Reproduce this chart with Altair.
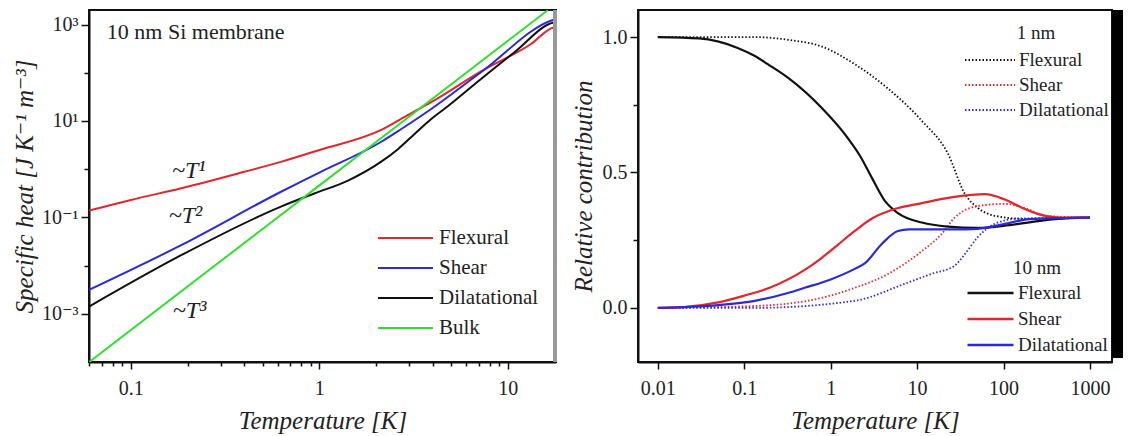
import altair as alt
import pandas as pd

FONT = "'Liberation Serif', 'Times New Roman', Tinos, 'DejaVu Serif', serif"
RED = "#e3262b"
BLUE = "#2a2ad8"
BLACK = "#111111"
GREEN = "#2ee02e"

# ---------------- left panel: specific heat (log-log) ----------------
flex_T = [0.06, 0.1, 0.185, 0.4, 0.63, 1.0, 2.13, 2.88, 3.92, 7.2, 13.2, 17.5, 18.0]
flex_C = [0.138, 0.23, 0.40, 0.88, 1.43, 2.5, 6.5, 12.6, 24.5, 107, 389, 870, 880]

shear_T = [0.06, 0.185, 0.63, 0.8, 1.0, 2.13, 2.72, 3.92, 7.2, 17.5, 18.0]
shear_C = [0.00313, 0.0265, 0.344, 0.55, 0.85, 3.7, 6.8, 17.7, 102, 1260, 1300]

dil_T = [0.06, 0.185, 0.63, 0.94, 1.42, 2.13, 2.62, 3.18, 3.92, 4.82, 7.2, 10.8, 17.5, 18.0]
dil_C = [0.00141, 0.0164, 0.169, 0.313, 0.58, 1.43, 2.63, 5.25, 11.0, 20.4, 74, 263, 1100, 1120]

bulk_T = [0.06, 0.1, 0.3, 1.0, 3.0, 10.0, 16.3]
bulk_C = [0.000099, 0.00046, 0.0124, 0.46, 12.4, 460, 1990]

left_series = ["Flexural", "Shear", "Dilatational", "Bulk"]
left_colors = [RED, BLUE, BLACK, GREEN]

label_text = ["10 nm Si membrane"]
label_T = [0.0746]
label_C = [684]

pow_text = ["~T¹", "~T²", "~T³"]
pow_T = [0.203, 0.195, 0.205]
pow_C = [0.933, 0.105, 0.00115]

# ---------------- right panel: relative contribution ----------------
f10_T = [0.01, 0.03, 0.084, 0.133, 0.187, 0.32, 0.79, 1.58, 2.2, 3.0, 4.24, 6.0, 11.4, 22.7, 50, 100, 190, 400, 1000]
f10_V = [1.0, 0.995, 0.96, 0.93, 0.90, 0.85, 0.738, 0.627, 0.56, 0.48, 0.395, 0.35, 0.315, 0.300, 0.295, 0.303, 0.315, 0.328, 0.333]

s10_T = [0.01, 0.02, 0.05, 0.1, 0.2, 0.5, 0.79, 1.2, 1.9, 3.0, 5.5, 11.4, 27, 61, 104, 163, 250, 474, 1000]
s10_V = [0.0, 0.003, 0.02, 0.045, 0.075, 0.14, 0.185, 0.232, 0.284, 0.33, 0.365, 0.387, 0.41, 0.42, 0.40, 0.37, 0.347, 0.333, 0.333]

d10_T = [0.01, 0.05, 0.133, 0.32, 0.5, 1.0, 1.9, 2.5, 3.9, 6.0, 8.0, 27, 50, 104, 200, 1000]
d10_V = [0.0, 0.01, 0.026, 0.055, 0.074, 0.105, 0.144, 0.165, 0.236, 0.284, 0.29, 0.29, 0.292, 0.31, 0.328, 0.333]

f1_T = [0.01, 0.133, 0.32, 0.79, 1.9, 4.6, 11.4, 22.7, 35.7, 50.6, 79, 190, 474, 1000]
f1_V = [1.0, 1.0, 0.99, 0.965, 0.90, 0.81, 0.69, 0.57, 0.421, 0.369, 0.34, 0.328, 0.332, 0.333]

s1_T = [0.01, 0.133, 0.79, 1.9, 4.6, 11.4, 19.3, 27, 50.6, 104, 190, 300, 1000]
s1_V = [0.0, 0.007, 0.037, 0.074, 0.125, 0.21, 0.273, 0.332, 0.376, 0.384, 0.365, 0.34, 0.333]

d1_T = [0.01, 0.133, 1.9, 7.2, 14.5, 27, 36, 50, 79, 150, 1000]
d1_V = [0.0, 0.0, 0.026, 0.089, 0.125, 0.155, 0.2, 0.26, 0.31, 0.33, 0.333]

right_series = ["Flexural", "Shear", "Dilatational"]
right_colors = [BLACK, RED, BLUE]


def frame(ts, vs, name, col="C"):
    return pd.DataFrame({"T": ts, col: vs, "series": name})


left_df = pd.concat([
    frame(flex_T, flex_C, "Flexural"),
    frame(shear_T, shear_C, "Shear"),
    frame(dil_T, dil_C, "Dilatational"),
    frame(bulk_T, bulk_C, "Bulk"),
])
label_df = pd.DataFrame({"T": label_T, "C": label_C, "text": label_text})
pow_df = pd.DataFrame({"T": pow_T, "C": pow_C, "text": pow_text})

nm10_df = pd.concat([
    frame(f10_T, f10_V, "Flexural", "V"),
    frame(s10_T, s10_V, "Shear", "V"),
    frame(d10_T, d10_V, "Dilatational", "V"),
])
nm1_df = pd.concat([
    frame(f1_T, f1_V, "Flexural", "V"),
    frame(s1_T, s1_V, "Shear", "V"),
    frame(d1_T, d1_V, "Dilatational", "V"),
])

LW, LH = 467, 352
RW, RH = 474, 352

xs_left = alt.Scale(type="log", domain=[0.06, 18], nice=False)
ys_left = alt.Scale(type="log", domain=[0.0001, 2000], nice=False)

minor_x_vals = [0.06, 0.07, 0.08, 0.09, 0.2, 0.3, 0.4, 0.5, 0.6, 0.7, 0.8, 0.9,
                2, 3, 4, 5, 6, 7, 8, 9]

lines_left = alt.Chart(left_df).mark_line(strokeWidth=2, clip=True, interpolate="monotone").encode(
    x=alt.X("T:Q", scale=xs_left,
            axis=alt.Axis(values=[0.1, 1, 10], format="~g", tickSize=7, orient="bottom",
                          title="Temperature [K]", titlePadding=10, labelPadding=9)),
    y=alt.Y("C:Q", scale=ys_left,
            axis=alt.Axis(values=[0.001, 0.1, 10, 1000], tickSize=8, orient="left",
                          labelExpr="datum.value > 500 ? '10³' : datum.value > 5 ? '10¹' : datum.value > 0.05 ? '10⁻¹' : '10⁻³'",
                          title="Specific heat [J K⁻¹ m⁻³]", titlePadding=4, labelPadding=3)),
    color=alt.Color("series:N", scale=alt.Scale(domain=left_series, range=left_colors),
                    legend=alt.Legend(orient="none", legendX=288, legendY=217, title=None,
                                      symbolType="stroke", symbolSize=3025, symbolStrokeWidth=2,
                                      clipHeight=22, rowPadding=8, labelOffset=5, padding=0,
                                      labelFont=FONT, labelFontSize=21, labelColor="#222",
                                      labelLimit=300)),
)

label_left = alt.Chart(label_df).mark_text(font=FONT, fontSize=22, align="left", baseline="middle",
                                           color="#222").encode(
    x=alt.X("T:Q", scale=xs_left, axis=None),
    y=alt.Y("C:Q", scale=ys_left, axis=None),
    text="text:N",
)

pow_left = alt.Chart(pow_df).mark_text(font=FONT, fontSize=24, fontStyle="italic", align="center",
                                       baseline="middle", color="#222").encode(
    x=alt.X("T:Q", scale=xs_left,
            axis=alt.Axis(values=minor_x_vals, labels=False, tickSize=4, orient="bottom",
                          title="", domain=False)),
    y=alt.Y("C:Q", scale=ys_left,
            axis=alt.Axis(values=[0.01, 1, 100], labels=False, tickSize=5, orient="left",
                          title="", domain=False)),
    text="text:N",
)

gray_bar = alt.Chart(pd.DataFrame({"k": [0]})).mark_rect(color="#9a9a9a").encode(
    x=alt.value(LW - 3), x2=alt.value(LW + 1), y=alt.value(0), y2=alt.value(LH)
)

left = alt.layer(lines_left, label_left, pow_left, gray_bar).resolve_axis(
    x="independent", y="independent"
).properties(width=LW, height=LH)

# right panel
xs_right = alt.Scale(type="log", domain=[0.0059, 1800], nice=False)
ys_right = alt.Scale(domain=[-0.2, 1.1], nice=False, zero=False)

dotted = alt.Chart(nm1_df).mark_line(strokeWidth=1.8, strokeDash=[1.5, 2], clip=True,
                                     interpolate="monotone").encode(
    x=alt.X("T:Q", scale=xs_right,
            axis=alt.Axis(values=[0.01, 0.1, 1, 10, 100, 1000], format="~g", tickSize=7,
                          orient="bottom", title="Temperature [K]", titlePadding=10, labelPadding=9)),
    y=alt.Y("V:Q", scale=ys_right,
            axis=alt.Axis(values=[0, 0.5, 1.0], format=".1f", tickSize=8, orient="left",
                          title="Relative contribution", titlePadding=6, labelPadding=3)),
    color=alt.Color("series:N", scale=alt.Scale(domain=right_series, range=right_colors),
                    legend=alt.Legend(orient="none", legendX=326, legendY=14, title="1 nm",
                                      titleAnchor="middle", titleFont=FONT, titleFontSize=19,
                                      titleFontWeight="normal", titleColor="#222", titlePadding=8,
                                      symbolType="stroke", symbolSize=2500, symbolStrokeWidth=2,
                                      symbolDash=[1.5, 2], clipHeight=18, rowPadding=6,
                                      labelOffset=3, padding=0, labelFont=FONT, labelFontSize=19,
                                      labelColor="#222", labelLimit=300)),
)

solid = alt.Chart(nm10_df).mark_line(strokeWidth=2.2, clip=True, interpolate="monotone").encode(
    x=alt.X("T:Q", scale=xs_right, axis=None),
    y=alt.Y("V:Q", scale=ys_right,
            axis=alt.Axis(values=[0.25, 0.75], labels=False, tickSize=5, orient="left",
                          title="", domain=False)),
    color=alt.Color("series:N", scale=alt.Scale(domain=right_series, range=right_colors),
                    legend=alt.Legend(orient="none", legendX=328, legendY=249, title="10 nm",
                                      titleAnchor="middle", titleFont=FONT, titleFontSize=19,
                                      titleFontWeight="normal", titleColor="#222", titlePadding=6,
                                      symbolType="stroke", symbolSize=2116, symbolStrokeWidth=2.5,
                                      clipHeight=18, rowPadding=7,
                                      labelOffset=3, padding=0, labelFont=FONT, labelFontSize=19,
                                      labelColor="#222", labelLimit=300)),
)

black_bar = alt.Chart(pd.DataFrame({"k": [0]})).mark_rect(color="#000000").encode(
    x=alt.value(RW), x2=alt.value(RW + 11), y=alt.value(0), y2=alt.value(RH - 4)
)

right = alt.layer(dotted, solid, black_bar).resolve_scale(
    color="independent"
).resolve_axis(x="independent", y="independent").properties(width=RW, height=RH)

chart = alt.hconcat(left, right, spacing=12).properties(
    padding={"left": 11, "top": 9, "right": 0, "bottom": 0}
).configure_view(
    stroke="#111111", strokeWidth=2
).configure_axis(
    domainColor="#111111", domainWidth=2, tickColor="#111111", tickWidth=1.5,
    labelFont=FONT, labelFontSize=20, labelColor="#222",
    titleFont=FONT, titleFontSize=25, titleFontStyle="italic", titleFontWeight="normal",
    titleColor="#222", grid=False
)

chart.save("out.html", embed_options={"renderer": "svg", "actions": False})
